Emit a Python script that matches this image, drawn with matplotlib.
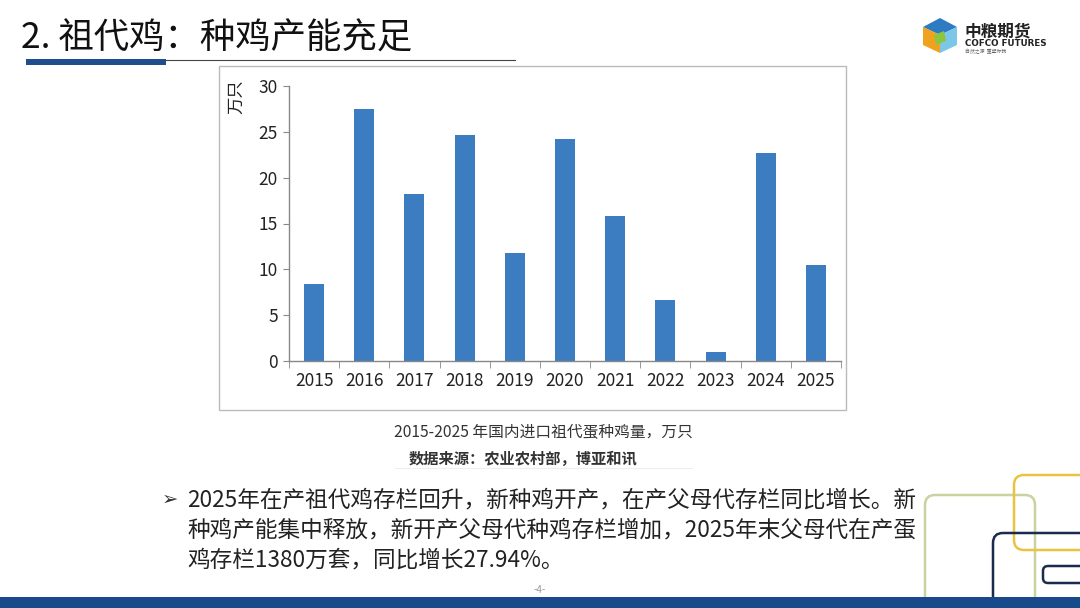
import matplotlib.pyplot as plt
from matplotlib.patches import Rectangle, FancyBboxPatch, Polygon

plt.rcParams['font.family'] = ['Noto Sans CJK SC', 'DejaVu Sans']

# data
years = ['2015', '2016', '2017', '2018', '2019', '2020',
         '2021', '2022', '2023', '2024', '2025']
imports = [8.4, 27.5, 18.2, 24.7, 11.8, 24.2, 15.8, 6.7, 0.95, 22.7, 10.5]
yticks = [0, 5, 10, 15, 20, 25, 30]

title = '2. 祖代鸡：种鸡产能充足'
caption = '2015-2025 年国内进口祖代蛋种鸡量，万只'
source = '数据来源：农业农村部，博亚和讯'
bullet_lines = ['2025年在产祖代鸡存栏回升，新种鸡开产，在产父母代存栏同比增长。新',
                '种鸡产能集中释放，新开产父母代种鸡存栏增加，2025年末父母代在产蛋',
                '鸡存栏1380万套，同比增长27.94%。']

W, H = 1080, 608
fig = plt.figure(figsize=(W / 100, H / 100), dpi=100, facecolor='white')


def fx(x):
    return x / W


def fy(y):
    return 1 - y / H


# background layer for decorations
bg = fig.add_axes([0, 0, 1, 1])
bg.set_xlim(0, W)
bg.set_ylim(H, 0)
bg.axis('off')

# title and underline
bg.text(21, 39, title, fontsize=25.5, color='#111111', va='center', ha='left')
bg.add_patch(Rectangle((26, 59), 140, 6, color='#1F4E8C', lw=0))
bg.plot([166, 515], [60, 60], color='#444444', lw=0.8)

# logo
bg.add_patch(Polygon([[940, 18], [957, 27], [940, 35], [923, 27]], closed=True, color='#2E7BC4', lw=0))
bg.add_patch(Polygon([[923, 27], [940, 35], [940, 53], [923, 45]], closed=True, color='#F0A21E', lw=0))
bg.add_patch(Polygon([[940, 35], [957, 27], [957, 45], [940, 53]], closed=True, color='#7CC6E8', lw=0))
bg.add_patch(Polygon([[934, 35], [944, 31], [946, 41], [936, 45]], closed=True, color='#8CC63F', lw=0))
bg.text(965, 31, '中粮期货', fontsize=12, fontweight='bold', color='#222222', va='center')
bg.text(965, 43, 'COFCO FUTURES', fontsize=6.3, fontweight='bold', color='#222222',
        va='center', family='DejaVu Sans')
bg.text(965, 51, '自然之源  重塑你我', fontsize=3.5, color='#666666', va='center')

# chart frame
bg.add_patch(Rectangle((219, 66), 627, 344, fill=False, ec='#BBBBBB', lw=1.0))

# caption and source
bg.text(543, 432, caption, fontsize=11.3, color='#333333', ha='center', va='center')
bg.text(523, 459, source, fontsize=11, color='#333333', ha='center', va='center',
        fontweight='bold')
bg.plot([395, 692], [468, 468], color='#EEEEEE', lw=0.8)

# bullet text
bg.text(162, 499, '➢', fontsize=14, color='#333333', va='center', family='DejaVu Sans')
for i, line in enumerate(bullet_lines):
    bg.text(187, 500 + i * 30, line, fontsize=16.3, color='#222222', va='center')

# page number
bg.text(540, 590, '-4-', fontsize=7, color='#999999', ha='center', va='center')

# decorative rounded frames at bottom right
bg.add_patch(FancyBboxPatch((925, 495), 110, 130, boxstyle='round,pad=0,rounding_size=10',
                            fill=False, ec='#C8D3A0', lw=1.8))
bg.add_patch(FancyBboxPatch((1014, 475), 90, 75, boxstyle='round,pad=0,rounding_size=10',
                            fill=False, ec='#E9C440', lw=1.8))
bg.add_patch(FancyBboxPatch((993, 533), 110, 90, boxstyle='round,pad=0,rounding_size=10',
                            fill=False, ec='#1B2B4F', lw=1.8))
bg.add_patch(FancyBboxPatch((1043, 566), 60, 17, boxstyle='round,pad=0,rounding_size=5',
                            fill=False, ec='#1B2B4F', lw=1.8))

# bottom bar
bg.add_patch(Rectangle((0, 597), W, 11, color='#174A8B', lw=0))

# bar chart
ax = fig.add_axes([fx(289), fy(361), (841 - 289) / W, (361 - 86) / H])
ax.bar(range(len(years)), imports, width=0.4, color='#3C7DC1')
ax.set_xlim(-0.5, len(years) - 0.5)
ax.set_ylim(0, 30)
ax.set_yticks(yticks)
ax.set_yticklabels([str(t) for t in yticks], fontsize=12.5, color='#222222')
ax.set_xticks(range(len(years)))
ax.set_xticklabels(years, fontsize=12.5, color='#222222')
ax.set_xticks([i + 0.5 for i in range(-1, len(years))], minor=True)
ax.tick_params(axis='x', which='major', length=0, pad=8)
ax.tick_params(axis='x', which='minor', length=5, color='#888888', direction='out')
ax.tick_params(axis='y', length=4, color='#888888', pad=4)
for s in ('top', 'right'):
    ax.spines[s].set_visible(False)
for s in ('left', 'bottom'):
    ax.spines[s].set_color('#888888')
    ax.spines[s].set_linewidth(1.0)
fig.text(fx(236), fy(97), '万只', fontsize=12.5, rotation=90, ha='center', va='center',
         color='#222222')

fig.savefig('out.png', dpi=100, facecolor='white')
